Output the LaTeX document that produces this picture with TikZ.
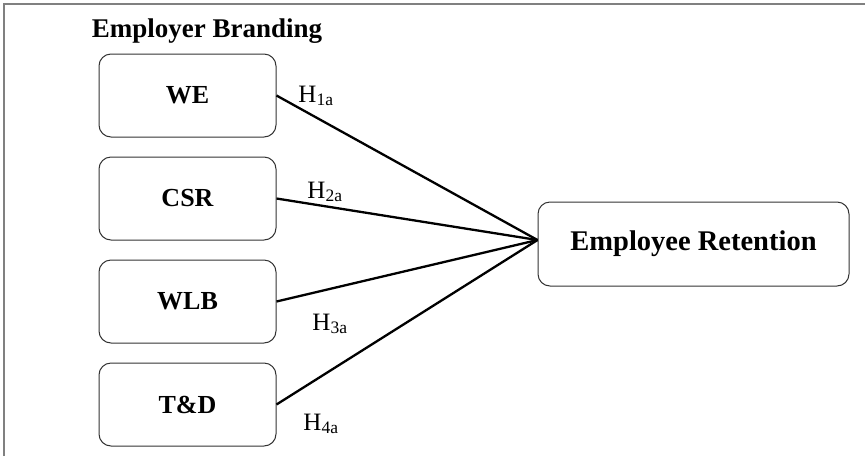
\documentclass[tikz,border=0pt]{standalone}
\usepackage{fontspec}
\setmainfont{Liberation Serif}
\usetikzlibrary{positioning}
\tikzset{
  dimbox/.style={draw=black!80,line width=1pt,rounded corners=12pt,minimum width=177pt,minimum height=83pt,font=\fontsize{26}{30}\selectfont\bfseries},
  link/.style={line width=2.3pt},
  hlab/.style={font=\fontsize{25}{30}\selectfont,inner sep=0pt}
}

\begin{document}
\begin{tikzpicture}[x=1pt,y=-1pt,node distance=19pt]
  \useasboundingbox (0,0) rectangle (865,456);
  % frame (only top and left sides are visible)
  \draw[black!50,line width=2pt] (3.5,456) -- (3.5,3.5) -- (865,3.5);
  \node[font=\fontsize{27}{30}\selectfont\bfseries] (eb) at (207,31) {Employer Branding};
  \node[dimbox] (we) at (187.5,95.5) {WE};
  \node[dimbox,below=of we] (csr) {CSR};
  \node[dimbox,below=of csr] (wlb) {WLB};
  \node[dimbox,below=of wlb] (td) {T\&D};
  \node[dimbox,minimum width=311pt,minimum height=84pt,font=\fontsize{28.5}{30}\selectfont\bfseries] (er) at (693.5,244) {Employee Retention};
  \draw[link] (we.east) -- ([yshift=4pt]er.west);
  \draw[link] (csr.east) -- ([yshift=4pt]er.west);
  \draw[link] (wlb.east) -- ([yshift=4pt]er.west);
  \draw[link] (td.east) -- ([yshift=4pt]er.west);
  \node[hlab] (h1) at (316,96) {H\textsubscript{1a}};
  \node[hlab] (h2) at (325,192) {H\textsubscript{2a}};
  \node[hlab] (h3) at (330,324) {H\textsubscript{3a}};
  \node[hlab] (h4) at (321,424) {H\textsubscript{4a}};
\end{tikzpicture}
\end{document}
